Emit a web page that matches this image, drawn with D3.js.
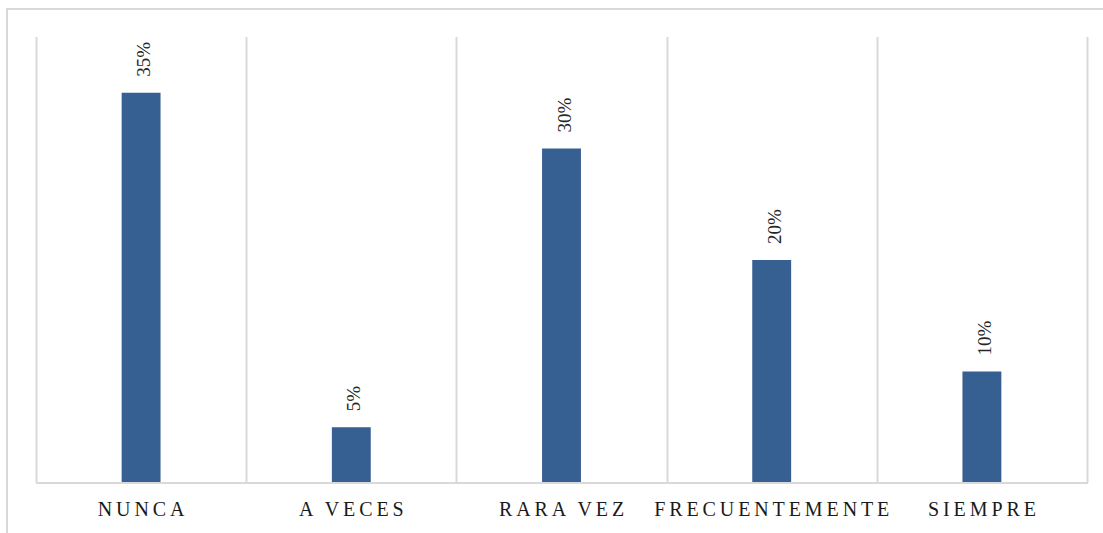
<!DOCTYPE html>
<html>
<head>
<meta charset="utf-8">
<script src="https://cdn.jsdelivr.net/npm/d3@7"></script>
<style>
  body { margin: 0; background: #fff; }
  svg { display: block; }
</style>
</head>
<body>
<div id="viz"></div>
<script>
// chart data
const categories = ['NUNCA', 'A VECES', 'RARA VEZ', 'FRECUENTEMENTE', 'SIEMPRE'];
const values = [0.35, 0.05, 0.30, 0.20, 0.10];
const valueLabels = ['35%', '5%', '30%', '20%', '10%'];

const barColor = '#365f92';
const gridColor = '#d9d9d9';

function createViz() {
  const dimensions = {
    width: 1103,
    height: 533,
    margin: { top: 37, right: 16, bottom: 50, left: 36 },
  };
  dimensions.boundedWidth = dimensions.width - dimensions.margin.left - dimensions.margin.right;
  dimensions.boundedHeight = dimensions.height - dimensions.margin.top - dimensions.margin.bottom;

  const wrapper = d3.select('#viz')
    .append('svg')
    .attr('width', dimensions.width)
    .attr('height', dimensions.height);

  // outer frame (runs off the right and bottom of the picture)
  wrapper.append('rect')
    .attr('x', 7)
    .attr('y', 9)
    .attr('width', dimensions.width + 10)
    .attr('height', dimensions.height + 10)
    .attr('fill', 'none')
    .attr('stroke', gridColor)
    .attr('stroke-width', 2);

  const chart = wrapper.append('g')
    .attr('transform', `translate(${dimensions.margin.left},${dimensions.margin.top})`);

  const xScale = d3.scaleBand()
    .domain(categories)
    .range([0, dimensions.boundedWidth])
    .paddingInner(0)
    .paddingOuter(0);

  const yScale = d3.scaleLinear()
    .domain([0, 0.4])
    .range([dimensions.boundedHeight, 0]);

  // vertical separators between categories
  const edges = categories.map(c => xScale(c)).concat([dimensions.boundedWidth]);
  chart.append('g')
    .selectAll('line')
    .data(edges)
    .join('line')
    .attr('x1', d => Math.round(d) + 0.5)
    .attr('x2', d => Math.round(d) + 0.5)
    .attr('y1', 0)
    .attr('y2', dimensions.boundedHeight)
    .attr('stroke', gridColor)
    .attr('stroke-width', 2);

  // baseline
  chart.append('line')
    .attr('x1', 0)
    .attr('x2', dimensions.boundedWidth + 1)
    .attr('y1', dimensions.boundedHeight)
    .attr('y2', dimensions.boundedHeight)
    .attr('stroke', gridColor)
    .attr('stroke-width', 2);

  const barWidth = xScale.bandwidth() * 0.185;

  chart.append('g')
    .selectAll('rect')
    .data(values)
    .join('rect')
    .attr('x', (d, i) => xScale(categories[i]) + xScale.bandwidth() / 2 - barWidth / 2)
    .attr('y', d => yScale(d))
    .attr('width', barWidth)
    .attr('height', d => yScale(0) - yScale(d) - 1)
    .attr('fill', barColor);

  // rotated value labels
  chart.append('g')
    .selectAll('text')
    .data(values)
    .join('text')
    .attr('transform', (d, i) => {
      const cx = xScale(categories[i]) + xScale.bandwidth() / 2 + 9;
      const cy = yScale(d) - 16;
      return `translate(${cx},${cy}) rotate(-90)`;
    })
    .attr('text-anchor', 'start')
    .style('font-family', '"Liberation Serif", "Times New Roman", serif')
    .style('font-size', '19px')
    .style('fill', '#262626')
    .text((d, i) => valueLabels[i]);

  // category labels
  const xAxis = chart.append('g')
    .attr('transform', `translate(0,${dimensions.boundedHeight})`);

  xAxis.selectAll('text')
    .data(categories)
    .join('text')
    .attr('x', d => xScale(d) + xScale.bandwidth() / 2 + 2)
    .attr('y', 33)
    .attr('text-anchor', 'middle')
    .style('font-family', '"Liberation Serif", "Times New Roman", serif')
    .style('font-size', '20px')
    .style('letter-spacing', '3.9px')
    .style('fill', '#1a1a1a')
    .text(d => d);
}

createViz();
</script>
</body>
</html>
